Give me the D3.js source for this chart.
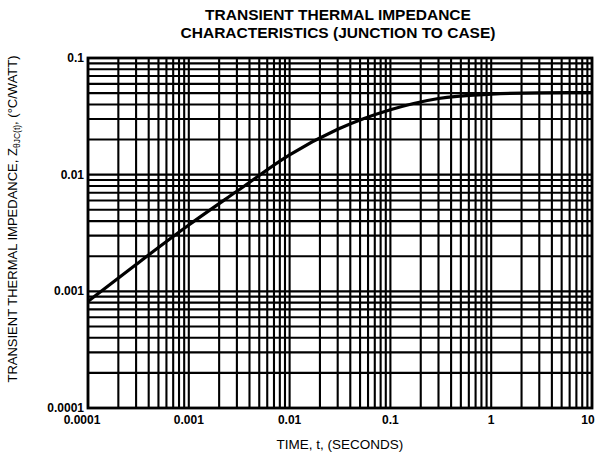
<!DOCTYPE html>
<html>
<head>
<meta charset="utf-8">
<script src="https://cdn.jsdelivr.net/npm/d3@7"></script>
<style>
  body { margin: 0; background: #fff; }
  svg { display: block; font-family: "Liberation Sans", Arial, sans-serif; }
</style>
</head>
<body>
<div id="chart"></div>
<script>
// Curve: time (s) vs Z(t) (°C/W)
const timeValues = [0.0001, 0.0003, 0.001, 0.003, 0.01, 0.03, 0.1, 0.3, 1, 3, 10];
const impedanceValues = [0.00082, 0.0017, 0.0037, 0.0072, 0.0148, 0.0245, 0.036, 0.045, 0.049, 0.0503, 0.0505];

// Tick labels as printed
const xTickValues = [0.0001, 0.001, 0.01, 0.1, 1, 10];
const xTickLabels = ["0.0001", "0.001", "0.01", "0.1", "1", "10"];
const yTickValues = [0.1, 0.01, 0.001, 0.0001];
const yTickLabels = ["0.1", "0.01", "0.001", "0.0001"];

const titleLines = ["TRANSIENT THERMAL IMPEDANCE", "CHARACTERISTICS (JUNCTION TO CASE)"];

function drawChart() {
  const width = 605;
  const height = 464;
  const margin = { top: 58, right: 13, bottom: 56, left: 88 };

  const svg = d3.select("#chart").append("svg")
    .attr("width", width)
    .attr("height", height);

  const x = d3.scaleLog()
    .domain([0.0001, 10])
    .range([margin.left, width - margin.right]);

  const y = d3.scaleLog()
    .domain([0.0001, 0.1])
    .range([height - margin.bottom, margin.top]);

  // Grid: every 1..9 multiple within each decade
  const grid = svg.append("g").attr("stroke", "#000").attr("stroke-width", 2.1);

  grid.selectAll("line.vx")
    .data(x.ticks())
    .join("line")
    .attr("class", "vx")
    .attr("x1", (d) => x(d))
    .attr("x2", (d) => x(d))
    .attr("y1", y.range()[0])
    .attr("y2", y.range()[1]);

  grid.selectAll("line.hy")
    .data(y.ticks())
    .join("line")
    .attr("class", "hy")
    .attr("x1", x.range()[0])
    .attr("x2", x.range()[1])
    .attr("y1", (d) => y(d))
    .attr("y2", (d) => y(d));

  // Frame
  svg.append("rect")
    .attr("x", x.range()[0])
    .attr("y", y.range()[1])
    .attr("width", x.range()[1] - x.range()[0])
    .attr("height", y.range()[0] - y.range()[1])
    .attr("fill", "none")
    .attr("stroke", "#000")
    .attr("stroke-width", 2.8);

  // Curve
  const points = timeValues.map((t, i) => [t, impedanceValues[i]]);
  const line = d3.line()
    .x((d) => x(d[0]))
    .y((d) => y(d[1]))
    .curve(d3.curveMonotoneX);

  svg.append("path")
    .datum(points)
    .attr("d", line)
    .attr("fill", "none")
    .attr("stroke", "#000")
    .attr("stroke-width", 3.2);

  // Tick labels
  svg.append("g")
    .selectAll("text")
    .data(yTickValues)
    .join("text")
    .attr("x", x.range()[0] - 4)
    .attr("y", (d) => y(d) + 4)
    .attr("text-anchor", "end")
    .attr("font-size", 12)
    .attr("font-weight", "bold")
    .text((d, i) => yTickLabels[i]);

  svg.append("g")
    .selectAll("text")
    .data(xTickValues)
    .join("text")
    .attr("x", (d, i) => x(d) + (i === 0 ? -6 : 0) + (i === xTickValues.length - 1 ? -4 : 0))
    .attr("y", y.range()[0] + 16)
    .attr("text-anchor", "middle")
    .attr("font-size", 12)
    .attr("font-weight", "bold")
    .text((d, i) => xTickLabels[i]);

  // Title
  svg.append("g")
    .selectAll("text")
    .data(titleLines)
    .join("text")
    .attr("x", 338)
    .attr("y", (d, i) => 20 + i * 18)
    .attr("text-anchor", "middle")
    .attr("font-size", 15.5)
    .attr("font-weight", "bold")
    .text((d) => d);

  // Axis titles
  svg.append("text")
    .attr("x", (x.range()[0] + x.range()[1]) / 2)
    .attr("y", 449)
    .attr("text-anchor", "middle")
    .attr("font-size", 13.5)
    .text("TIME, t, (SECONDS)");

  const yLabel = svg.append("text")
    .attr("transform", `translate(17, ${(y.range()[0] + y.range()[1]) / 2 - 14}) rotate(-90)`)
    .attr("text-anchor", "middle")
    .attr("font-size", 13);
  yLabel.append("tspan").text("TRANSIENT THERMAL IMPEDANCE, Z");
  yLabel.append("tspan").attr("dy", 3).attr("font-size", 8.5).text("θJC(t)");
  yLabel.append("tspan").attr("dy", -3).text(", (°C/WATT)");
}

drawChart();
</script>
</body>
</html>
